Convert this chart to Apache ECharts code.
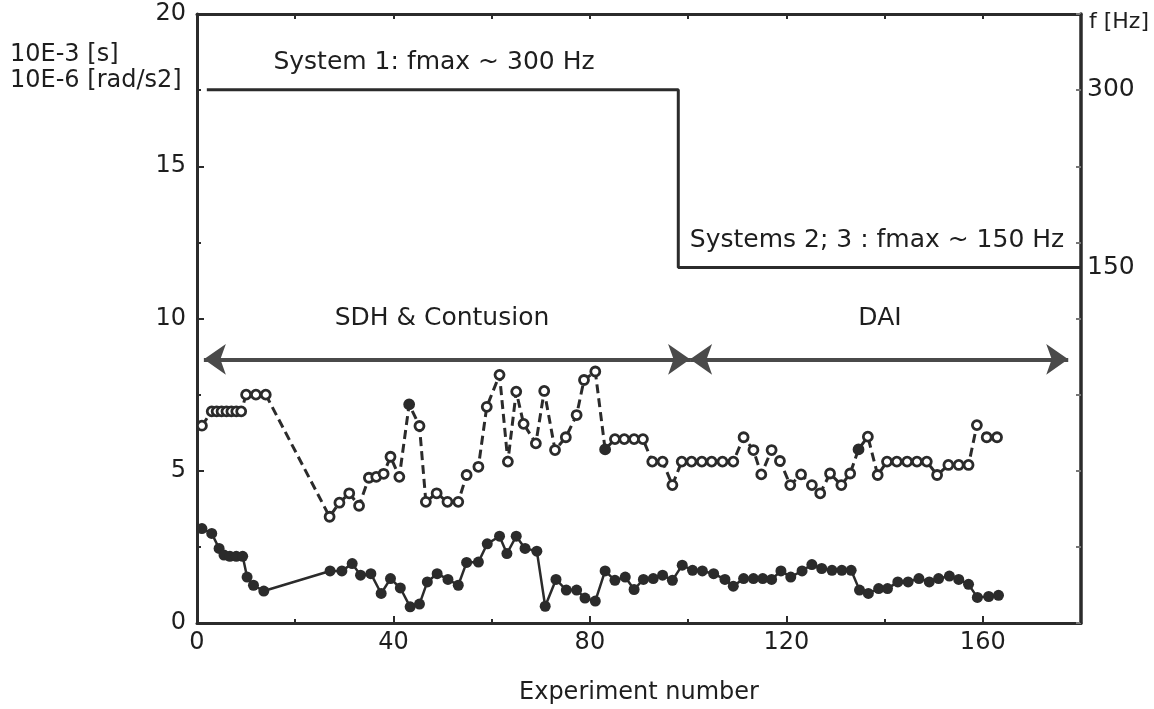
<!DOCTYPE html>
<html>
<head>
<meta charset="utf-8">
<title>Experiment number</title>
<script src="https://cdn.jsdelivr.net/npm/echarts@6/dist/echarts.min.js"></script>
<style>
  html, body { margin: 0; padding: 0; background: #fff; }
  #chart { width: 1154px; height: 709px; }
</style>
</head>
<body>
<div id="chart"></div>
<script>
// upper series (dashed, open circles)
const upperX = [1, 3, 4, 5, 6, 7, 8, 9, 10, 12, 14, 27, 29, 31, 33, 35, 36.5, 38, 39.4, 41.2,
  43.2, 45.3, 46.6, 48.8, 51, 53.2, 54.9, 57.3, 59, 61.6, 63.3, 65, 66.5, 69, 70.7, 72.9,
  75.1, 77.3, 78.8, 81.1, 83.1, 85.1, 87, 89, 90.8, 92.7, 94.8, 96.8, 98.7, 100.7, 102.8,
  104.8, 107, 109.2, 111.3, 113.3, 114.9, 117, 118.7, 120.8, 123, 125.2, 126.9, 128.9,
  131.2, 133, 134.7, 136.6, 138.6, 140.5, 142.5, 144.6, 146.6, 148.6, 150.7, 153, 155.1,
  157.1, 158.8, 160.8, 162.9];
const upperY = [6.48, 6.95, 6.95, 6.95, 6.95, 6.95, 6.95, 6.95, 7.5, 7.5, 7.5, 3.49, 3.95, 4.26,
  3.85, 4.77, 4.8, 4.9, 5.46, 4.8, 7.18, 6.47, 3.98, 4.26, 3.98, 3.98, 4.86, 5.13, 7.1, 8.15,
  5.3, 7.6, 6.54, 5.9, 7.62, 5.68, 6.1, 6.83, 7.98, 8.26, 5.7, 6.04, 6.04, 6.04, 6.04, 5.3,
  5.3, 4.53, 5.3, 5.3, 5.3, 5.3, 5.3, 5.3, 6.1, 5.68, 4.88, 5.68, 5.32, 4.53, 4.88, 4.53,
  4.26, 4.91, 4.53, 4.91, 5.7, 6.12, 4.86, 5.3, 5.3, 5.3, 5.3, 5.3, 4.86, 5.19, 5.19, 5.19,
  6.5, 6.1, 6.1];
const upperFilledX = [43.2, 83.1, 134.7];

// lower series (solid, filled circles)
const lowerX = [1, 3, 4.5, 5.5, 6.7, 8, 9.3, 10.2, 11.5, 13.6, 27.1, 29.5, 31.6, 33.3, 35.4,
  37.5, 39.4, 41.4, 43.4, 45.3, 46.9, 48.9, 51.1, 53.2, 54.9, 57.3, 59.1, 61.6, 63.1, 65,
  66.8, 69.2, 70.9, 73.1, 75.2, 77.3, 79, 81.1, 83.1, 85.1, 87.2, 89, 90.9, 92.9, 94.8, 96.8,
  98.8, 100.9, 102.9, 105.2, 107.5, 109.2, 111.3, 113.3, 115.2, 117, 118.9, 120.9, 123.2,
  125.2, 127.2, 129.3, 131.3, 133.2, 134.9, 136.7, 138.8, 140.6, 142.7, 144.8, 147, 149.1,
  151, 153.2, 155.1, 157.1, 158.9, 161.2, 163.2];
const lowerY = [3.1, 2.94, 2.45, 2.23, 2.19, 2.19, 2.19, 1.51, 1.24, 1.05, 1.71, 1.71, 1.95,
  1.57, 1.62, 0.97, 1.46, 1.15, 0.53, 0.62, 1.35, 1.62, 1.43, 1.24, 1.99, 2.0, 2.6, 2.85,
  2.28, 2.85, 2.45, 2.36, 0.55, 1.43, 1.08, 1.08, 0.82, 0.72, 1.71, 1.4, 1.51, 1.1, 1.43,
  1.46, 1.57, 1.4, 1.9, 1.73, 1.71, 1.62, 1.43, 1.21, 1.46, 1.46, 1.46, 1.43, 1.71, 1.51,
  1.71, 1.92, 1.79, 1.73, 1.73, 1.73, 1.08, 0.97, 1.13, 1.13, 1.35, 1.35, 1.46, 1.35, 1.46,
  1.54, 1.43, 1.27, 0.84, 0.87, 0.91];

// fmax step (Hz)
const stepX = [2, 98, 180];
const stepF = [300, 150, 150];

// group arrows (SDH & Contusion | DAI)
const groupStart = [1.4, 100.4];
const groupEnd = [100.4, 177.4];
const groupArrowY = 8.66;

const xTicks = [0, 40, 80, 120, 160];
const fLabels = [150, 300];

const ink = '#2b2b2b';
const font = 'DejaVu Sans';

const chart = echarts.init(document.getElementById('chart'));

const upperData = upperX.map((x, i) => {
  const p = { value: [x, upperY[i]] };
  if (upperFilledX.indexOf(x) >= 0) p.itemStyle = { color: ink };
  return p;
});
const lowerData = lowerX.map((x, i) => [x, lowerY[i]]);
const stepData = stepX.map((x, i) => [x, stepF[i]]);

const arrows = groupStart.map((s, i) => [
  { coord: [s, groupArrowY] },
  { coord: [groupEnd[i], groupArrowY] }
]);

const txt = (text, x, y, align, size) => ({
  type: 'text',
  x: x, y: y,
  silent: true,
  style: {
    text: text, fill: '#1e1e1e',
    font: (size || 25) + 'px "' + font + '"',
    textAlign: align || 'center', textVerticalAlign: 'middle'
  }
});

const option = {
  animation: false,
  textStyle: { fontFamily: font },
  grid: { left: 197, right: 73, top: 14, bottom: 86, outerBoundsMode: 'none' },
  xAxis: [
    {
      type: 'value', min: 0, max: 180, interval: 40,
      axisLine: { onZero: false, lineStyle: { color: ink, width: 3 } },
      axisTick: { inside: true, length: 7, lineStyle: { color: ink, width: 2 } },
      minorTick: { show: true, splitNumber: 2, length: 4, lineStyle: { color: ink, width: 2 } },
      splitLine: { show: false },
      axisLabel: {
        color: '#1e1e1e', fontSize: 24, margin: 8, fontFamily: font,
        formatter: v => (xTicks.indexOf(v) >= 0 ? String(v) : '')
      },
      name: 'Experiment number', nameLocation: 'middle', nameGap: 58,
      nameTextStyle: { color: '#1e1e1e', fontSize: 24, fontFamily: font }
    },
    {
      type: 'value', position: 'top', min: 0, max: 180, interval: 20,
      axisLine: { onZero: false, lineStyle: { color: ink, width: 3 } },
      axisTick: { inside: true, length: 5, lineStyle: { color: ink, width: 2 } },
      axisLabel: { show: false },
      splitLine: { show: false }
    }
  ],
  yAxis: [
    {
      type: 'value', min: 0, max: 20, interval: 5,
      axisLine: { show: true, onZero: false, lineStyle: { color: ink, width: 3 } },
      axisTick: { show: true, inside: true, length: 7, lineStyle: { color: ink, width: 2 } },
      minorTick: { show: true, splitNumber: 2, length: 4, lineStyle: { color: ink, width: 2 } },
      splitLine: { show: false },
      axisLabel: { color: '#1e1e1e', fontSize: 24, margin: 11, fontFamily: font }
    },
    {
      type: 'value', position: 'right', min: 0, max: 20, interval: 2.5,
      axisLine: { show: true, onZero: false, lineStyle: { color: ink, width: 3.5 } },
      axisTick: { show: true, inside: true, length: 5, lineStyle: { color: '#777', width: 2 } },
      axisLabel: { show: false },
      splitLine: { show: false }
    },
    {
      type: 'value', position: 'right', min: -150, max: 364, interval: 150,
      axisLine: { show: false, onZero: false },
      axisTick: { show: false },
      splitLine: { show: false },
      axisLabel: {
        color: '#1e1e1e', fontSize: 25, margin: 6, fontFamily: font,
        formatter: v => (fLabels.indexOf(v) >= 0 ? String(v) : '')
      }
    }
  ],
  graphic: [
    txt('10E-3 [s]', 10, 55, 'left', 24),
    txt('10E-6 [rad/s2]', 10, 81, 'left', 24),
    txt('f [Hz]', 1089, 22, 'left', 22),
    txt('System 1: fmax ~ 300 Hz', 434, 62),
    txt('Systems 2; 3 : fmax ~ 150 Hz', 877, 240),
    txt('SDH & Contusion', 442, 318),
    txt('DAI', 880, 318)
  ],
  series: [
    {
      name: 'fmax', type: 'line', yAxisIndex: 2, step: 'end',
      data: stepData, showSymbol: false, silent: true,
      lineStyle: { color: ink, width: 3 }
    },
    {
      name: 'upper', type: 'line', data: upperData,
      symbol: 'circle', symbolSize: 9,
      itemStyle: { color: '#fff', borderColor: ink, borderWidth: 2.8 },
      lineStyle: { color: ink, width: 3, type: [9, 5] },
      z: 3
    },
    {
      name: 'lower', type: 'line', data: lowerData,
      symbol: 'circle', symbolSize: 11,
      itemStyle: { color: ink },
      lineStyle: { color: ink, width: 2.5 },
      markLine: {
        silent: true, animation: false,
        symbol: ['arrow', 'arrow'], symbolSize: [23, 22],
        label: { show: false },
        lineStyle: { color: '#4a4a4a', width: 4, type: 'solid' },
        emphasis: { disabled: true },
        data: arrows
      },
      z: 3
    }
  ]
};

chart.setOption(option);
</script>
</body>
</html>
